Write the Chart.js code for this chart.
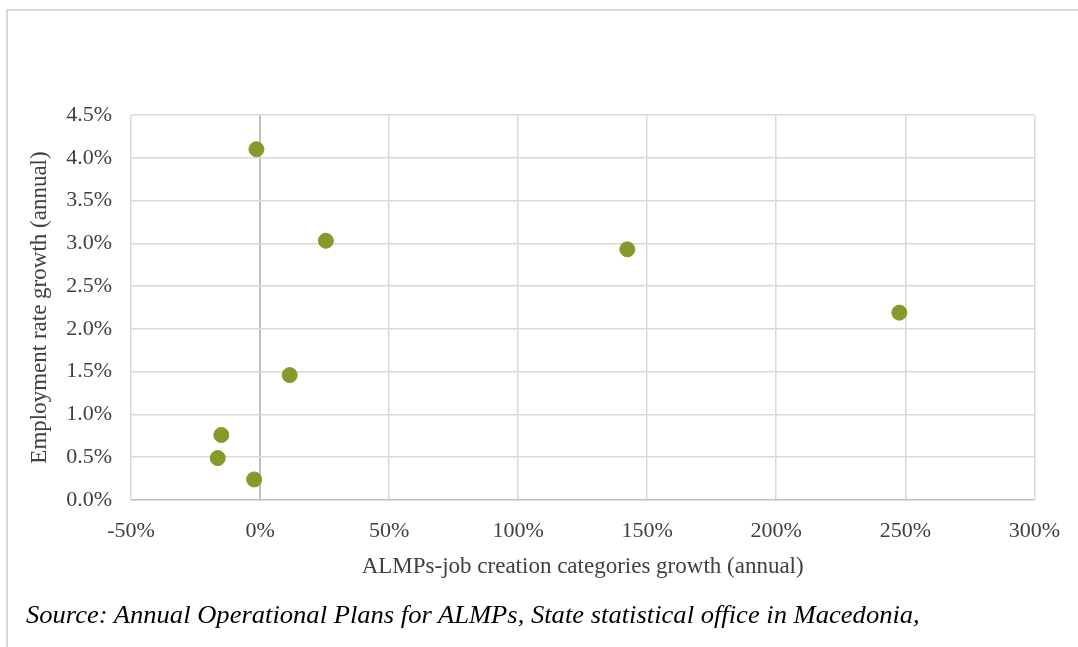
<!DOCTYPE html>
<html>
<head>
<meta charset="utf-8">
<script src="https://cdn.jsdelivr.net/npm/chart.js@4.4.1/dist/chart.umd.min.js"></script>
<style>
    html, body { margin: 0; padding: 0; background: #fff; }
    #wrap { position: relative; width: 1078px; height: 647px; overflow: hidden; }
    #frame { position: absolute; left: 6px; top: 9px; right: -5px; bottom: -5px;
             border-top: 2px solid #d9d9d9; border-left: 2px solid #d9d9d9; }
    #chartBox { position: absolute; left: 0; top: 0; width: 1078px; height: 647px; }
    #source { position: absolute; left: 26px; top: 600px; white-space: nowrap;
              font-family: "Liberation Serif", serif; font-style: italic; font-size: 26px;
              color: #000; transform-origin: 0 0; }
</style>
</head>
<body>
<div id="wrap">
    <div id="frame"></div>
    <div id="chartBox"><canvas id="scatterChart" width="1078" height="647"></canvas></div>
    <div id="source">Source: Annual Operational Plans for ALMPs, State statistical office in Macedonia,</div>
</div>
<script>
// Data (x: ALMP growth %, y: employment rate growth %)
const almpGrowth = [-1.4, 25.5, 11.5, -15.0, -16.4, -2.3, 142.3, 247.7];
const employmentGrowth = [4.10, 3.03, 1.46, 0.76, 0.49, 0.24, 2.93, 2.19];

const xTitle = 'ALMPs-job creation categories growth (annual)';
const yTitle = 'Employment rate growth (annual)';

const points = almpGrowth.map((x, i) => ({ x: x, y: employmentGrowth[i] }));

const tickFont = { family: '"Liberation Serif", serif', size: 22 };
const titleFont = { family: '"Liberation Serif", serif', size: 23 };

// Squeeze the source line to the width it has in the picture
const src = document.getElementById('source');
src.style.transform = 'scaleX(' + (894 / src.offsetWidth) + ')';

const ctx = document.getElementById('scatterChart').getContext('2d');
const chart = new Chart(ctx, {
    type: 'scatter',
    data: {
        datasets: [{
            data: points,
            backgroundColor: '#849a2b',
            borderColor: '#849a2b',
            pointRadius: 7.5,
            pointHoverRadius: 7.5,
        }]
    },
    options: {
        responsive: false,
        animation: false,
        layout: { padding: { left: 0, top: 115, right: 42, bottom: 65 } },
        plugins: { legend: { display: false }, tooltip: { enabled: false } },
        scales: {
            x: {
                type: 'linear',
                min: -50,
                max: 300,
                ticks: {
                    stepSize: 50,
                    padding: 18,
                    color: '#404040',
                    font: tickFont,
                    callback: v => v + '%'
                },
                grid: {
                    drawTicks: false,
                    color: c => c.tick && c.tick.value === 0 ? '#bfbfbf' : '#d9d9d9',
                    lineWidth: c => c.tick && c.tick.value === 0 ? 2 : 1.5
                },
                border: { display: false },
                title: {
                    display: true,
                    text: xTitle,
                    color: '#404040',
                    font: titleFont,
                    padding: { top: 0, bottom: 1 }
                },
                afterFit: s => { s.height = 82; }
            },
            y: {
                type: 'linear',
                min: 0,
                max: 4.5,
                ticks: {
                    stepSize: 0.5,
                    padding: 19,
                    color: '#404040',
                    font: tickFont,
                    callback: v => v.toFixed(1) + '%'
                },
                grid: {
                    drawTicks: false,
                    color: c => c.tick && c.tick.value === 0 ? '#bfbfbf' : '#d9d9d9',
                    lineWidth: 1.5
                },
                border: { display: false },
                title: {
                    display: true,
                    text: yTitle,
                    color: '#404040',
                    font: titleFont,
                    padding: { top: 26, bottom: 0 }
                },
                afterFit: s => { s.width = 131; }
            }
        }
    }
});
</script>
</body>
</html>
